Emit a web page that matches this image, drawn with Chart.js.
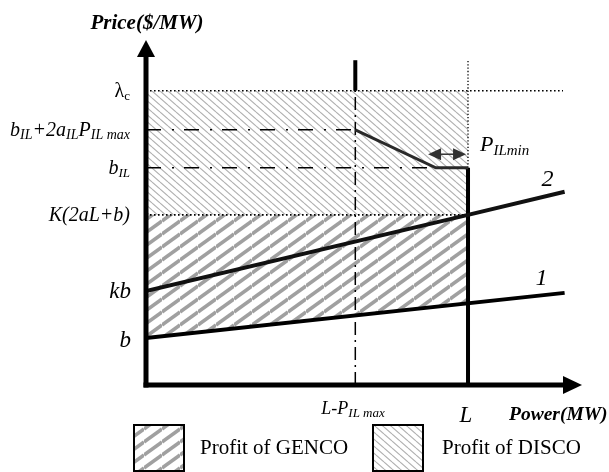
<!DOCTYPE html>
<html><head><meta charset="utf-8">
<script src="https://cdn.jsdelivr.net/npm/chart.js@4/dist/chart.umd.min.js"></script>
<style>html,body{margin:0;padding:0;background:#fff;}canvas{display:block;}</style>
</head><body>
<canvas id="c" width="609" height="472"></canvas>
<script>
// ---- data (schematic units) ----
const xAxisMax = 135.4;
const yAxisMax = 73.4;
const powerTickValues = [65, 100];            // L - P_IL max , L
const priceLevelValues = [10, 20, 36.2, 46.2, 54.3, 62.6]; // b, kb, K(2aL+b), b_IL, b_IL+2a_IL P_ILmax, lambda_c
const line1X = [0, 130];
const line1Y = [10, 19.6];
const line2X = [0, 100, 130];
const line2Y = [20, 36.2, 41.1];
const ilCurveX = [65, 90, 100];
const ilCurveY = [54.3, 46.2, 46.2];
const verticalTop = 69.1;
const lambdaLineEnd = 129.5;
const pilMinArrowX = [87.6, 99.4];
const pilMinArrowY = 49.1;
const legendLabels = ['Profit of GENCO', 'Profit of DISCO'];

const [LmP, L] = powerTickValues;
const [pB, pKB, pK, pBIL, pBILmax, pLam] = priceLevelValues;
const line1AtL = line1Y[0] + (line1Y[1] - line1Y[0]) * (L - line1X[0]) / (line1X[1] - line1X[0]);

const canvas = document.getElementById('c');
const ctx0 = canvas.getContext('2d');
function makePattern(w, h, color, lw, dir) {
  const c = document.createElement('canvas'); c.width = w; c.height = h;
  const g = c.getContext('2d');
  g.strokeStyle = color; g.lineWidth = lw; g.lineCap = 'butt';
  for (let k = -2; k <= 2; k++) {
    g.beginPath();
    if (dir > 0) { g.moveTo(0, h * k + h); g.lineTo(w, h * k); }
    else { g.moveTo(0, h * k); g.lineTo(w, h * k + h); }
    g.stroke();
  }
  return ctx0.createPattern(c, 'repeat');
}
const gencoPat = makePattern(18, 13, '#a0a0a0', 3.6, 1);
const discoPat = makePattern(8, 7, '#b0b0b0', 1.1, -1);

const pts = (xs, ys) => xs.map((v, i) => ({x: v, y: ys[i]}));
const base = {pointRadius: 0, fill: false, tension: 0, borderColor: '#000'};

const datasets = [
  {...base, data: pts(line1X, line1Y), borderWidth: 4},
  {...base, data: pts(line2X, line2Y), borderWidth: 4, borderColor: '#111'},
  {...base, data: pts(ilCurveX, ilCurveY), borderWidth: 3, borderColor: '#2a2a2a'},
  {...base, data: [{x: LmP, y: pLam}, {x: LmP, y: verticalTop}], borderWidth: 4},
  {...base, data: [{x: LmP, y: 0}, {x: LmP, y: pLam}], borderWidth: 1.5, borderDash: [13, 5, 2, 5]},
  {...base, data: [{x: L, y: 0}, {x: L, y: pBIL}], borderWidth: 4},
  {...base, data: [{x: L, y: pBIL}, {x: L, y: verticalTop}], borderWidth: 1.3, borderDash: [1.3, 2]},
  {...base, data: [{x: 0, y: pBILmax}, {x: LmP, y: pBILmax}], borderWidth: 1.5, borderDash: [15, 11, 2, 10]},
  {...base, data: [{x: 0, y: pBIL}, {x: ilCurveX[1], y: pBIL}], borderWidth: 1.5, borderDash: [15, 11, 2, 10]},
  {...base, data: [{x: 0, y: pLam}, {x: lambdaLineEnd, y: pLam}], borderWidth: 1.6, borderDash: [1.6, 2.4]},
  {...base, data: [{x: 0, y: pK}, {x: L, y: pK}], borderWidth: 1.6, borderDash: [1.6, 2.4], fill: 11, backgroundColor: gencoPat},
  {...base, data: [{x: 0, y: line1Y[0]}, {x: L, y: line1AtL}], borderWidth: 0, borderColor: 'rgba(0,0,0,0)'},
  {...base, data: [{x: 0, y: pLam}, {x: L, y: pLam}], borderWidth: 0, borderColor: 'rgba(0,0,0,0)', fill: 10, backgroundColor: discoPat}
];

function drawRich(ctx, parts, x, y, align) {
  let w = 0;
  parts.forEach(p => { ctx.font = p[1]; w += ctx.measureText(p[0]).width; });
  let cx = align === 'right' ? x - w : (align === 'center' ? x - w / 2 : x);
  ctx.textAlign = 'left'; ctx.textBaseline = 'alphabetic';
  parts.forEach(p => { ctx.font = p[1]; ctx.fillText(p[0], cx, y + (p[2] || 0)); cx += ctx.measureText(p[0]).width; });
}

const F = 'Liberation Serif';
const it = s => `italic ${s}px "${F}"`;
const annot = {
  id: 'annot',
  afterDatasetsDraw(chart) {
    const {ctx, scales: {x, y}} = chart;
    const px = v => x.getPixelForValue(v), py = v => y.getPixelForValue(v);
    ctx.save();
    ctx.fillStyle = '#000'; ctx.strokeStyle = '#000';
    // axes
    const x0 = px(0), y0 = py(0), ty = py(yAxisMax), tx = px(xAxisMax);
    ctx.lineWidth = 5;
    ctx.beginPath(); ctx.moveTo(x0, y0 + 2.5); ctx.lineTo(x0, ty + 15); ctx.stroke();
    ctx.beginPath(); ctx.moveTo(x0 - 2.5, y0); ctx.lineTo(tx - 16, y0); ctx.stroke();
    ctx.beginPath(); ctx.moveTo(x0, ty); ctx.lineTo(x0 - 9, ty + 17); ctx.lineTo(x0 + 9, ty + 17); ctx.closePath(); ctx.fill();
    ctx.beginPath(); ctx.moveTo(tx, y0); ctx.lineTo(tx - 19, y0 - 9); ctx.lineTo(tx - 19, y0 + 9); ctx.closePath(); ctx.fill();
    // P_ILmin double arrow
    const a1 = px(pilMinArrowX[0]), a2 = px(pilMinArrowX[1]), ay = py(pilMinArrowY);
    ctx.fillStyle = '#333'; ctx.strokeStyle = '#333'; ctx.lineWidth = 1.5;
    ctx.beginPath(); ctx.moveTo(a1 + 8, ay); ctx.lineTo(a2 - 8, ay); ctx.stroke();
    ctx.beginPath(); ctx.moveTo(a1, ay); ctx.lineTo(a1 + 13, ay - 6); ctx.lineTo(a1 + 13, ay + 6); ctx.closePath(); ctx.fill();
    ctx.beginPath(); ctx.moveTo(a2, ay); ctx.lineTo(a2 - 13, ay - 6); ctx.lineTo(a2 - 13, ay + 6); ctx.closePath(); ctx.fill();
    ctx.fillStyle = '#000';
    // y labels
    const rx = x0 - 16;
    drawRich(ctx, [['b', it(23)]], rx + 1, py(pB) + 9, 'right');
    drawRich(ctx, [['kb', it(23)]], rx + 1, py(pKB) + 7, 'right');
    drawRich(ctx, [['K(2aL+b)', it(20)]], rx, py(pK) + 6, 'right');
    drawRich(ctx, [['b', it(20)], ['IL', it(13), 3]], rx, py(pBIL) + 6, 'right');
    drawRich(ctx, [['b', it(20)], ['IL', it(14), 3], ['+2a', it(20)], ['IL', it(14), 3], ['P', it(20)], ['IL max', it(14), 3]], rx, py(pBILmax) + 6, 'right');
    drawRich(ctx, [['λ', `20px "${F}"`], ['c', `13px "${F}"`, 3]], rx, py(pLam) + 6, 'right');
    // x labels
    drawRich(ctx, [['L-P', it(18)], ['IL max', it(13), 3]], px(LmP) - 34, y0 + 29, 'left');
    drawRich(ctx, [['L', it(23)]], px(L) - 2, y0 + 37, 'center');
    drawRich(ctx, [['Power(MW)', `bold italic 19.5px "${F}"`]], 509, y0 + 35, 'left');
    drawRich(ctx, [['Price($/MW)', `bold italic 21px "${F}"`]], x0 + 1, 29, 'center');
    // curve labels
    drawRich(ctx, [['P', it(22)], ['ILmin', it(15), 4]], px(L) + 12, py(pilMinArrowY) - 3, 'left');
    drawRich(ctx, [['2', it(24)]], px(line2X[2]) - 17, py(line2Y[2]) - 6, 'center');
    drawRich(ctx, [['1', it(24)]], px(line1X[1]) - 23, py(line1Y[1]) - 8, 'center');
    // legend
    const boxes = [[134, gencoPat, 200], [373, discoPat, 442]];
    boxes.forEach((b, i) => {
      ctx.fillStyle = '#fff'; ctx.fillRect(b[0], 425, 50, 46);
      ctx.fillStyle = b[1]; ctx.fillRect(b[0], 425, 50, 46);
      ctx.strokeStyle = '#000'; ctx.lineWidth = 2; ctx.strokeRect(b[0], 425, 50, 46);
      ctx.fillStyle = '#000';
      drawRich(ctx, [[legendLabels[i], `21px "${F}"`]], b[2], 454, 'left');
    });
    ctx.restore();
  }
};

new Chart(canvas, {
  type: 'line',
  data: {datasets},
  options: {
    responsive: false, animation: false,
    layout: {padding: {left: 146, right: 27, top: 40, bottom: 87}},
    scales: {
      x: {type: 'linear', min: 0, max: xAxisMax, display: false},
      y: {type: 'linear', min: 0, max: yAxisMax, display: false}
    },
    plugins: {legend: {display: false}, tooltip: {enabled: false}, filler: {propagate: false}},
    elements: {line: {borderCapStyle: 'butt'}}
  },
  plugins: [annot]
});
</script>
</body></html>
